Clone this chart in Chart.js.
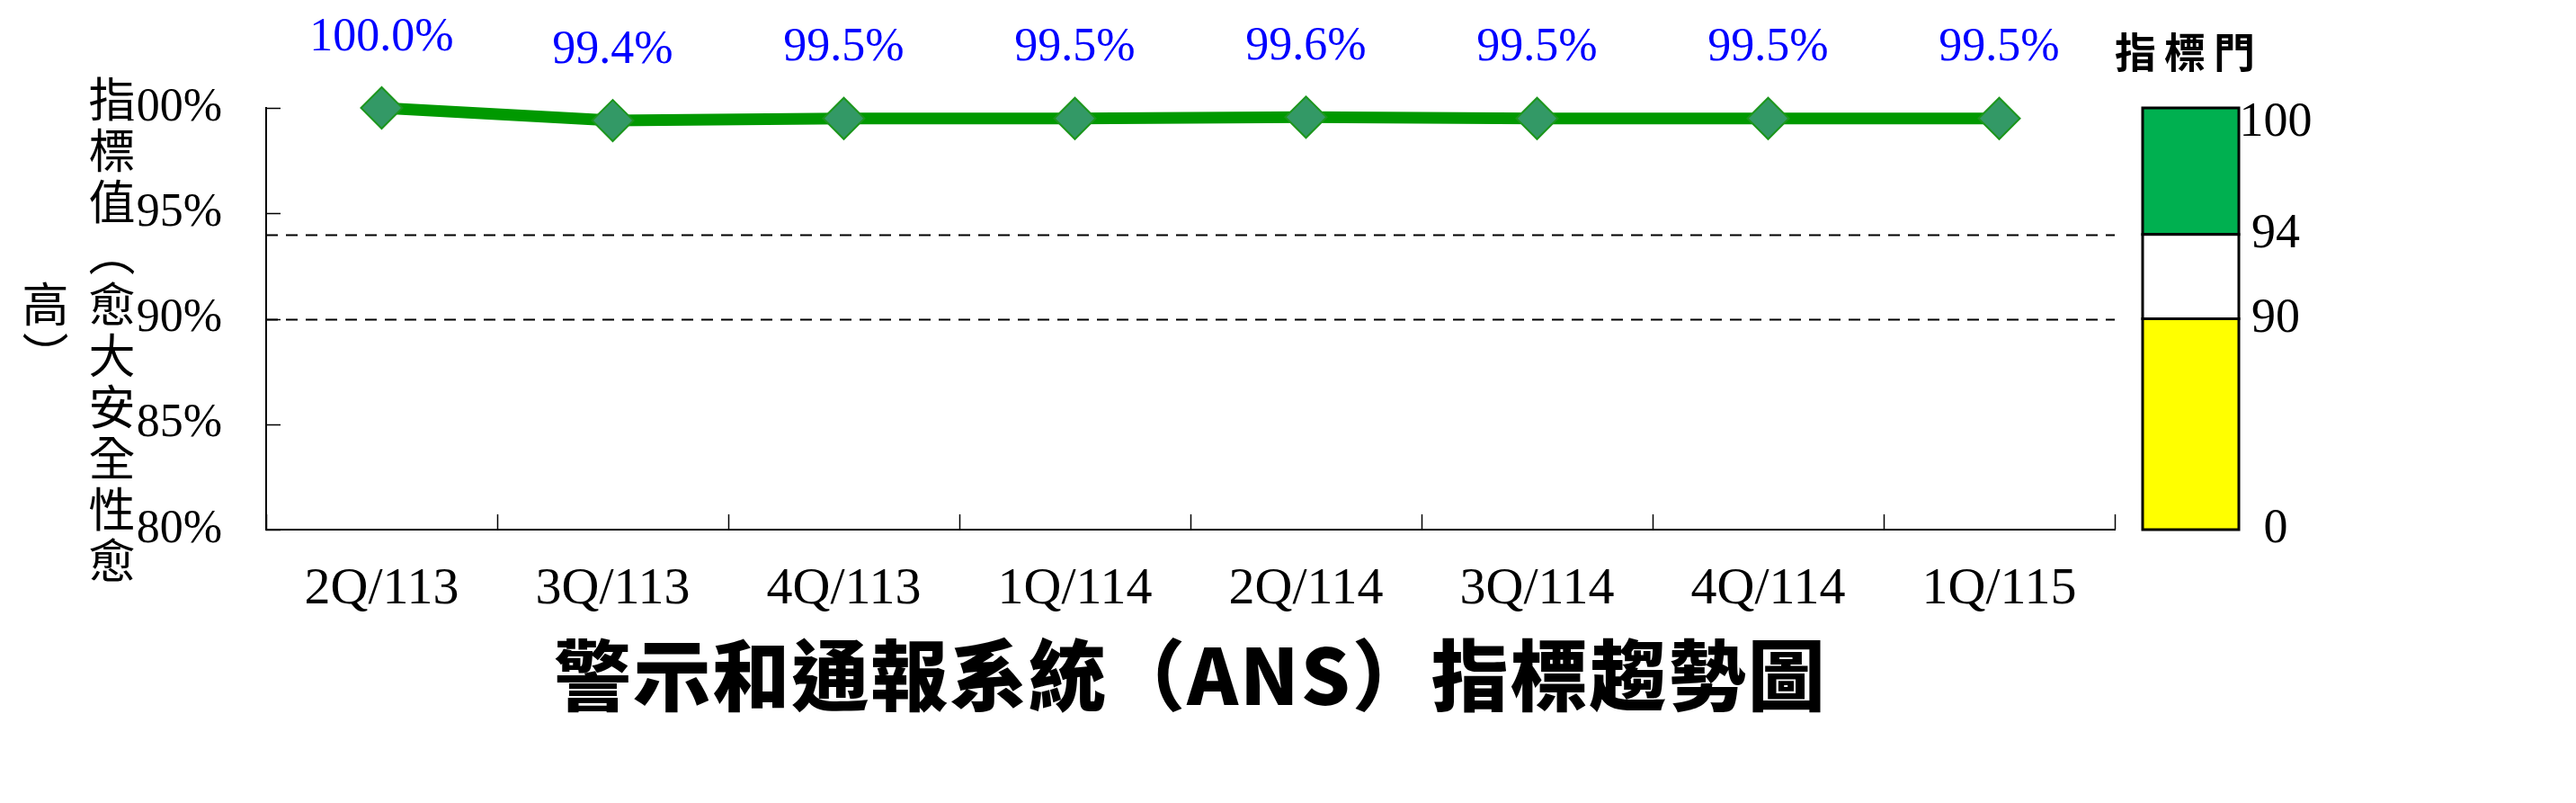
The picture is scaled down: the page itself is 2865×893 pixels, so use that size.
<!DOCTYPE html>
<html>
<head>
<meta charset="utf-8">
<script src="https://cdn.jsdelivr.net/npm/chart.js@4.4.0/dist/chart.umd.min.js"></script>
<style>
  body { margin: 0; background: #fff; }
  #wrap { position: relative; width: 2865px; height: 893px; overflow: hidden; background: #fff; }
  #myChart { position: absolute; left: 0; top: 0; }
  #tapa { position: absolute; left: 98px; top: 80px; width: 48px; height: 575px; background: #fff; }
  #ytitle {
    position: absolute; left: 13px; top: 80px; width: 148px; height: 578px;
    writing-mode: vertical-rl; text-orientation: mixed; text-align: center;
    font-family: "Noto Sans CJK TC", sans-serif; font-size: 52px; line-height: 74px;
    letter-spacing: 5px; color: #000;
  }
  #gaugeTitle {
    position: absolute; left: 2352px; top: 22px;
    font-family: "Noto Sans CJK TC", sans-serif; font-weight: 700; font-size: 46px;
    letter-spacing: 9px; color: #000;
  }
  #title {
    position: absolute; left: 296px; width: 2056px; top: 700px; text-align: center;
    font-family: "Noto Sans CJK TC", sans-serif; font-weight: 900; font-size: 86px;
    line-height: 1.1; letter-spacing: 2px; color: #000;
  }
</style>
</head>
<body>
<div id="wrap">
  <canvas id="myChart" width="2865" height="893"></canvas>
  <div id="tapa"></div>
  <div id="ytitle">指標值（愈大安全性愈高）</div>
  <div id="gaugeTitle">指標門</div>
  <div id="title">警示和通報系統（ANS）指標趨勢圖</div>
</div>
<script>
  // datos del grafico
  const categorias = ['2Q/113', '3Q/113', '4Q/113', '1Q/114', '2Q/114', '3Q/114', '4Q/114', '1Q/115'];
  const valoresIndicador = [100.0, 99.4, 99.5, 99.5, 99.56, 99.5, 99.5, 99.5];
  const ticksY = [80, 85, 90, 95, 100];
  const lineasUmbral = [94, 90];
  const nivelesUmbral = [100, 94, 90, 0]; // etiquetas de la barra de la derecha
  const coloresUmbral = ['#00b050', '#ffffff', '#ffff00'];

  const fuenteSerif = '"Liberation Serif", "Times New Roman", serif';

  // lineas punteadas, marcas interiores de los ejes y la barra "指標門"
  const pluginEjes = {
    id: 'pluginEjes',
    beforeDatasetsDraw(chart) {
      const ctx = chart.ctx;
      const area = chart.chartArea;
      const y = chart.scales.y;
      const x = chart.scales.x;
      ctx.save();

      // lineas de umbral
      ctx.strokeStyle = '#000';
      ctx.lineWidth = 2;
      ctx.setLineDash([13, 9]);
      lineasUmbral.forEach(v => {
        const py = Math.round(y.getPixelForValue(v)) + 0.5;
        ctx.beginPath();
        ctx.moveTo(area.left, py);
        ctx.lineTo(area.right, py);
        ctx.stroke();
      });
      ctx.setLineDash([]);

      // marcas del eje y hacia dentro
      ctx.lineWidth = 1.5;
      ticksY.forEach(v => {
        const py = Math.round(y.getPixelForValue(v)) + 0.5;
        ctx.beginPath();
        ctx.moveTo(area.left, py);
        ctx.lineTo(area.left + 16, py);
        ctx.stroke();
      });

      // marcas del eje x entre categorias
      const paso = (x.right - x.left) / categorias.length;
      for (let i = 0; i <= categorias.length; i++) {
        const px = Math.round(x.left + i * paso) + 0.5;
        ctx.beginPath();
        ctx.moveTo(px, area.bottom);
        ctx.lineTo(px, area.bottom - 17);
        ctx.stroke();
      }

      // barra de umbrales a la derecha
      const bx = 2383, bw = 107;
      const yPix = v => y.getPixelForValue(Math.max(v, y.min));
      for (let i = 0; i < coloresUmbral.length; i++) {
        const top = yPix(nivelesUmbral[i]);
        const bot = yPix(nivelesUmbral[i + 1]);
        ctx.fillStyle = coloresUmbral[i];
        ctx.fillRect(bx, top, bw, bot - top);
        ctx.strokeStyle = '#000';
        ctx.lineWidth = 3;
        ctx.strokeRect(bx, top, bw, bot - top);
      }
      ctx.fillStyle = '#000';
      ctx.font = '54px ' + fuenteSerif;
      ctx.textAlign = 'center';
      ctx.textBaseline = 'middle';
      nivelesUmbral.forEach(v => {
        const py = Math.max(yPix(v), area.top + 17);
        ctx.fillText(String(v), 2531, py);
      });
      ctx.restore();
    }
  };

  // etiquetas azules sobre cada punto
  const pluginEtiquetas = {
    id: 'pluginEtiquetas',
    afterDatasetsDraw(chart) {
      const ctx = chart.ctx;
      const meta = chart.getDatasetMeta(0);
      ctx.save();
      ctx.fillStyle = '#0000ff';
      ctx.font = '52px ' + fuenteSerif;
      ctx.textAlign = 'center';
      ctx.textBaseline = 'middle';
      meta.data.forEach((pt, i) => {
        ctx.fillText(valoresIndicador[i].toFixed(1) + '%', pt.x, pt.y - 78);
      });
      ctx.restore();
    }
  };

  const ctx = document.getElementById('myChart');
  const grafico = new Chart(ctx, {
    type: 'line',
    data: {
      labels: categorias,
      datasets: [{
        label: '指標值',
        data: valoresIndicador,
        borderColor: '#009900',
        borderWidth: 13,
        pointStyle: 'rectRot',
        pointRadius: 23,
        pointBackgroundColor: '#339966',
        pointBorderColor: '#1c961c',
        pointBorderWidth: 2,
        tension: 0,
        clip: false
      }]
    },
    options: {
      responsive: false,
      animation: false,
      devicePixelRatio: 1,
      layout: { padding: { top: 120, right: 513, left: 0, bottom: 0 } },
      plugins: {
        legend: { display: false },
        tooltip: { enabled: false },
        title: { display: false }
      },
      scales: {
        x: {
          offset: true,
          grid: { display: false, drawTicks: false },
          border: { color: '#000', width: 2 },
          ticks: {
            color: '#000',
            font: { family: fuenteSerif, size: 58 },
            padding: 32,
            maxRotation: 0,
            autoSkip: false
          },
          afterFit(scale) { scale.height = 304; }
        },
        y: {
          min: 80,
          max: 100,
          grid: { display: false, drawTicks: false },
          border: { color: '#000', width: 2 },
          afterBuildTicks(scale) { scale.ticks = ticksY.map(v => ({ value: v })); },
          ticks: {
            color: '#000',
            font: { family: fuenteSerif, size: 52 },
            padding: 49,
            callback: v => v + '%'
          },
          afterFit(scale) { scale.width = 296; }
        }
      }
    },
    plugins: [pluginEjes, pluginEtiquetas]
  });
</script>
</body>
</html>
